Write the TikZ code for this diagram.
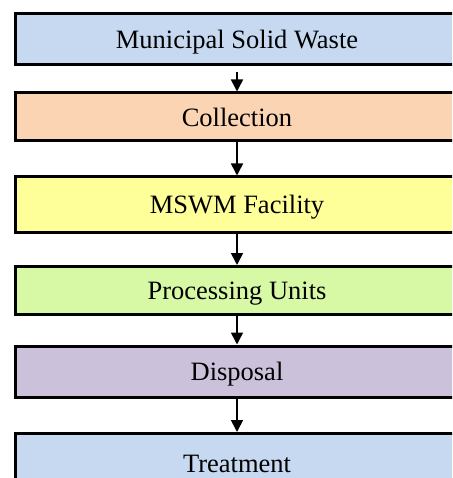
\documentclass[tikz,border=0pt]{standalone}
\usepackage{fontspec}
\setmainfont{Liberation Serif}
\usetikzlibrary{arrows.meta}
\definecolor{cblue}{HTML}{C6D9F0}
\definecolor{cpeach}{HTML}{FBD4B4}
\definecolor{cyellow}{HTML}{FFFF99}
\definecolor{cgreen}{HTML}{D7F9A5}
\definecolor{cpurple}{HTML}{CCC1DA}
\begin{document}
\begin{tikzpicture}[x=1pt,y=1pt,
  box/.style={draw=black, line width=3pt, minimum width=443pt, inner sep=0pt,
    text depth=0pt, font=\fontsize{26.5}{30}\selectfont},
  conn/.style={line width=1.6pt, -{Triangle[length=12pt,width=12pt]}}]
\useasboundingbox (0,0) rectangle (452,-478);
\clip (0,0) rectangle (452,-478);
\fill[white] (0,0) rectangle (452,-478);
\node[box, fill=cblue,   minimum height=51pt] (b1) at (237,-39.5) {Municipal Solid Waste};
\node[box, fill=cpeach,  minimum height=48pt] (b2) at (237,-117) {Collection};
\node[box, fill=cyellow, minimum height=55pt] (b3) at (237,-204.5) {MSWM Facility};
\node[box, fill=cgreen,  minimum height=48pt] (b4) at (237,-290.5) {Processing Units};
\node[box, fill=cpurple, minimum height=51pt] (b5) at (237,-371.5) {Disposal};
\node[box, fill=cblue,   minimum height=90pt] (b6) at (237,-478.5) {\raisebox{30pt}{Treatment}};
\draw[conn, shorten <=6pt] (b1.south) -- (b2.north);
\draw[conn] (b2.south) -- (b3.north);
\draw[conn] (b3.south) -- (b4.north);
\draw[conn] (b4.south) -- (b5.north);
\draw[conn] (b5.south) -- (b6.north);
\end{tikzpicture}
\end{document}
